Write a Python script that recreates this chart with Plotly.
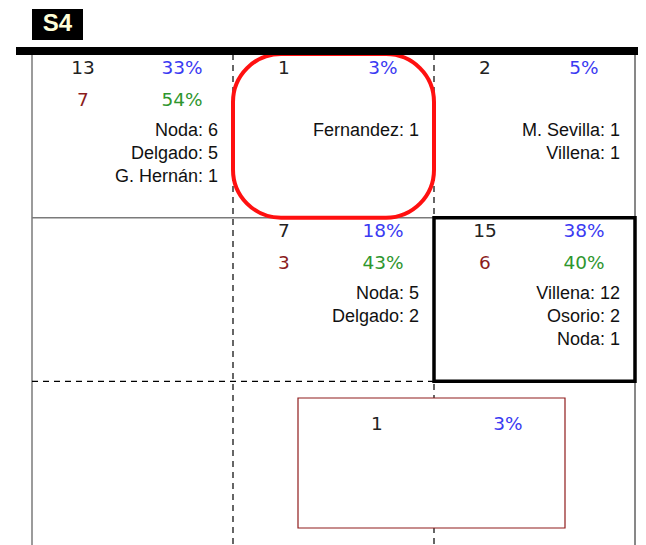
import plotly.graph_objects as go

# ---------------- data ----------------
panel_label = "S4"
cell_cols = [0, 1, 2, 1, 2]
cell_rows = [0, 0, 0, 1, 1]
totals = [13, 1, 2, 7, 15]
total_pcts = ["33%", "3%", "5%", "18%", "38%"]
sub_counts = [7, None, None, 3, 6]
sub_pcts = ["54%", None, None, "43%", "40%"]
cell_names = [
    ["Noda", "Delgado", "G. Hernán"],
    ["Fernandez"],
    ["M. Sevilla", "Villena"],
    ["Noda", "Delgado"],
    ["Villena", "Osorio", "Noda"],
]
cell_name_counts = [
    [6, 5, 1],
    [1],
    [1, 1],
    [5, 2],
    [12, 2, 1],
]
box_total = 1
box_pct = "3%"

# ---------------- layout constants (page pixels) ----------------
PAGE_W, PAGE_H = 646, 545
OFF = 8                 # default body margin of the html page
GX0, GX1 = 32, 635      # grid left/right in px
GY0, GY1 = 54, 545      # grid top/bottom in px
PL, PT = 16, 9          # plot area left/top in px
NCOL, NROW = 3, 3
SX = (GX1 - GX0) / NCOL
SY = (GY1 - GY0) / NROW


def px_x(p):
    return (p - GX0) / SX


def px_y(p):
    return (p - GY0) / SY


xr = [px_x(PL), px_x(PAGE_W)]
yr = [px_y(PAGE_H), px_y(PT)]

C_BLACK = "#222222"
C_BLUE = "#3a3af2"
C_GREEN = "#2e962e"
C_DRED = "#8b1c1c"
NUM_FONT = "DejaVu Sans"
NAME_FONT = "Liberation Sans"
NUM_SIZE = 18.5

fig = go.Figure()

# text offsets within a cell (fractions of cell)
dx_count, dx_pct, dx_names = 51 / SX, 150 / SX, 186 / SX
dy_l1, dy_l2, dy_names, dy_step = 15 / SY, 47 / SY, 77 / SY, 23 / SY

fig.add_trace(go.Scatter(
    x=[c + dx_count for c in cell_cols], y=[r + dy_l1 for r in cell_rows],
    text=[str(t) for t in totals], mode="text", textposition="middle center",
    textfont=dict(family=NUM_FONT, size=NUM_SIZE, color=C_BLACK), hoverinfo="skip"))
fig.add_trace(go.Scatter(
    x=[c + dx_pct for c in cell_cols], y=[r + dy_l1 for r in cell_rows],
    text=total_pcts, mode="text", textposition="middle center",
    textfont=dict(family=NUM_FONT, size=NUM_SIZE, color=C_BLUE), hoverinfo="skip"))

sx, sy, st, px2, pt2 = [], [], [], [], []
for c, r, s, p in zip(cell_cols, cell_rows, sub_counts, sub_pcts):
    if s is not None:
        sx.append(c + dx_count); sy.append(r + dy_l2); st.append(str(s))
        px2.append(c + dx_pct); pt2.append(p)
fig.add_trace(go.Scatter(
    x=sx, y=sy, text=st, mode="text", textposition="middle center",
    textfont=dict(family=NUM_FONT, size=NUM_SIZE, color=C_DRED), hoverinfo="skip"))
fig.add_trace(go.Scatter(
    x=px2, y=sy, text=pt2, mode="text", textposition="middle center",
    textfont=dict(family=NUM_FONT, size=NUM_SIZE, color=C_GREEN), hoverinfo="skip"))

nx, ny, nt = [], [], []
for c, r, names, counts in zip(cell_cols, cell_rows, cell_names, cell_name_counts):
    for i, (n, k) in enumerate(zip(names, counts)):
        nx.append(c + dx_names)
        ny.append(r + dy_names + i * dy_step)
        nt.append(f"{n}: {k}")
fig.add_trace(go.Scatter(
    x=nx, y=ny, text=nt, mode="text", textposition="middle left",
    textfont=dict(family=NAME_FONT, size=18, color="#111111"), hoverinfo="skip"))

# box in bottom row
bx0, bx1, by0, by1 = px_x(298), px_x(565), px_y(398), px_y(528)
fig.add_trace(go.Scatter(
    x=[px_x(377)], y=[px_y(425)], text=[str(box_total)], mode="text",
    textposition="middle center",
    textfont=dict(family=NUM_FONT, size=NUM_SIZE, color=C_BLACK), hoverinfo="skip"))
fig.add_trace(go.Scatter(
    x=[px_x(508)], y=[px_y(425)], text=[box_pct], mode="text",
    textposition="middle center",
    textfont=dict(family=NUM_FONT, size=NUM_SIZE, color=C_BLUE), hoverinfo="skip"))

shapes = []
# grid lines
shapes.append(dict(type="line", x0=0, x1=0, y0=0, y1=NROW, line=dict(color="#7a7a7a", width=1.5)))
shapes.append(dict(type="line", x0=NCOL, x1=NCOL, y0=0, y1=NROW, line=dict(color="#111111", width=1)))
for c in [1, 2]:
    shapes.append(dict(type="line", x0=c, x1=c, y0=0, y1=NROW,
                       line=dict(color="#000000", width=1.2, dash="6px,5px")))
shapes.append(dict(type="line", x0=0, x1=NCOL, y0=1, y1=1, line=dict(color="#7a7a7a", width=1.5)))
shapes.append(dict(type="line", x0=0, x1=NCOL, y0=2, y1=2,
                   line=dict(color="#000000", width=1.2, dash="6px,5px")))
# white box in bottom row
shapes.append(dict(type="rect", x0=bx0, x1=bx1, y0=by0, y1=by1,
                   fillcolor="white", line=dict(color="#8f1c1c", width=1.2)))
# black highlight box
shapes.append(dict(type="rect", x0=2, x1=3, y0=1, y1=2, line=dict(color="black", width=3.5)))
# red rounded rectangle
x0, x1, y0, y1 = 1, 2, 0, 1
rx, ry = 48 / SX, 48 / SY
k = 0.5523
path = (f"M {x0+rx},{y0} L {x1-rx},{y0} "
        f"C {x1-rx+k*rx},{y0} {x1},{y0+ry-k*ry} {x1},{y0+ry} "
        f"L {x1},{y1-ry} "
        f"C {x1},{y1-ry+k*ry} {x1-rx+k*rx},{y1} {x1-rx},{y1} "
        f"L {x0+rx},{y1} "
        f"C {x0+rx-k*rx},{y1} {x0},{y1-ry+k*ry} {x0},{y1-ry} "
        f"L {x0},{y0+ry} "
        f"C {x0},{y0+ry-k*ry} {x0+rx-k*rx},{y0} {x0+rx},{y0} Z")
shapes.append(dict(type="path", path=path, line=dict(color="#ff1010", width=4)))
# thick top line
shapes.append(dict(type="line", x0=xr[0], x1=xr[1], y0=px_y(51), y1=px_y(51),
                   line=dict(color="black", width=8)))
# S4 label box
shapes.append(dict(type="rect", x0=px_x(32), x1=px_x(83), y0=px_y(9), y1=px_y(40),
                   fillcolor="black", line=dict(width=0)))
for s in shapes:
    s["layer"] = "below"

fig.add_trace(go.Scatter(
    x=[px_x(57.5)], y=[px_y(25)], text=[f"<b>{panel_label}</b>"], mode="text",
    textposition="middle center",
    textfont=dict(family="Liberation Sans", size=24, color="#ffffd8"), hoverinfo="skip"))

fig.update_layout(
    width=PAGE_W - OFF, height=PAGE_H - OFF,
    margin=dict(l=PL - OFF, r=0, t=PT - OFF, b=0, pad=0),
    paper_bgcolor="white", plot_bgcolor="white",
    showlegend=False, shapes=shapes,
    xaxis=dict(range=xr, visible=False, fixedrange=True),
    yaxis=dict(range=yr, visible=False, fixedrange=True),
)
fig.write_html("out.html", config={"displayModeBar": False})
